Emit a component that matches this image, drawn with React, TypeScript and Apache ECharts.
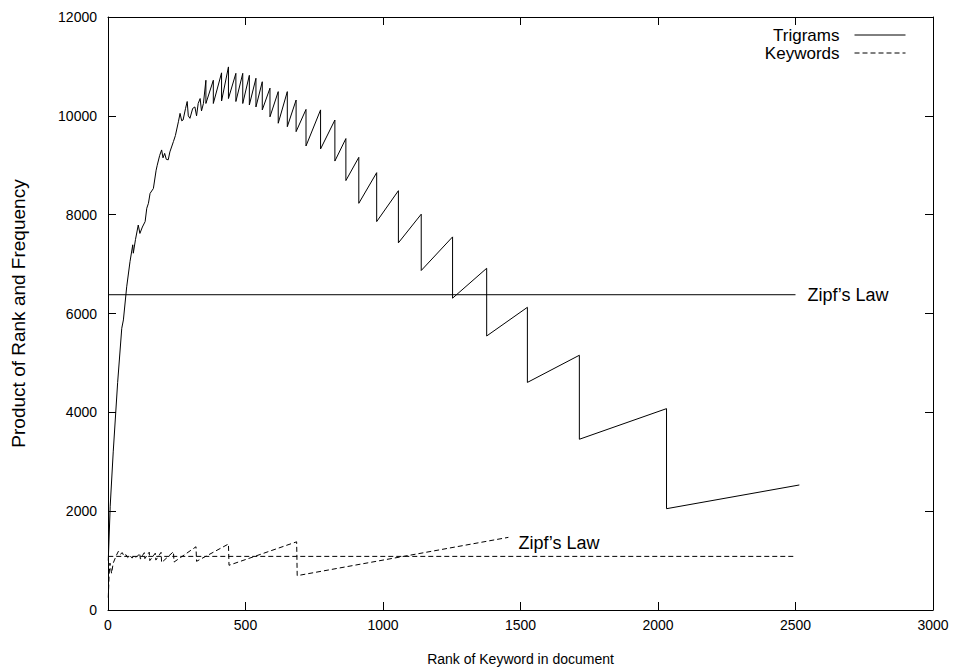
import React, { useEffect, useRef } from "react";
import * as echarts from "echarts";

// Trigram curve: rank vs product of rank and frequency
const trigramRank = [
  1, 8, 19, 35, 50, 56, 68, 80, 90, 92, 100, 110, 116, 125, 135, 141, 147, 153, 165, 175, 179, 188, 195,
  200, 206, 212, 219, 225, 238, 245, 256, 262, 268, 273, 282, 288, 292, 298, 308, 316, 322, 328, 335, 340,
  347, 356, 356, 383, 383, 413, 413, 438, 438, 465, 465, 490, 490, 514, 514, 538, 538, 561, 561, 589, 589,
  619, 619, 652, 652, 684, 684, 720, 720, 773, 773, 825, 825, 865, 865, 912, 912, 977, 977, 1056, 1056,
  1139, 1139, 1253, 1253, 1377, 1377, 1525, 1525, 1714, 1714, 2031, 2031, 2514,
];
const trigramValue = [
  1000, 2100, 3200, 4600, 5700, 5870, 6540, 7050, 7390, 7220, 7500, 7790, 7620, 7750, 7860, 8130, 8230,
  8430, 8530, 8900, 9000, 9200, 9310, 9150, 9240, 9120, 9110, 9270, 9480, 9600, 9880, 10050, 9900, 9915,
  10150, 10290, 10000, 9950, 10150, 10180, 10000, 10250, 10350, 10100, 10250, 10720, 10250, 10720, 10250,
  10870, 10300, 10990, 10350, 10860, 10290, 10860, 10250, 10820, 10220, 10760, 10180, 10690, 10120, 10560,
  9980, 10490, 9850, 10490, 9780, 10320, 9680, 10130, 9390, 10120, 9330, 9915, 9085, 9540, 8690, 9160,
  8230, 8850, 7860, 8485, 7430, 8010, 6870, 7550, 6310, 6915, 5545, 6125, 4605, 5155, 3455, 4075, 2050, 2530,
];

// Keyword curve
const keywordRank = [
  1, 4, 7, 13, 19, 30, 38, 45, 52, 58, 65, 72, 80, 88, 95, 100, 108, 115, 118, 125, 132, 134, 145, 150,
  152, 172, 174, 193, 195, 238, 240, 320, 322, 438, 440, 686, 688, 1456,
];
const keywordValue = [
  250, 700, 950, 740, 950, 1100, 1190, 1130, 1160, 1090, 1120, 1060, 1100, 1050, 1110, 1070, 1090, 1150,
  1030, 1100, 1160, 1040, 1130, 1170, 1000, 1150, 1010, 1167, 960, 1180, 970, 1280, 985, 1335, 905, 1380,
  695, 1470,
];

// Zipf's law reference levels
const zipfRange = [1, 2500];
const trigramZipf = 6380;
const keywordZipf = 1085;

const xTicks = { min: 0, max: 3000, interval: 500 };
const yTicks = { min: 0, max: 12000, interval: 2000 };

const FONT = "'Liberation Sans', Arial, Helvetica, sans-serif";

export default function App() {
  const ref = useRef<HTMLDivElement>(null);
  useEffect(() => {
    if (!ref.current) return;
    const chart = echarts.init(ref.current, null, { renderer: "svg" });
    const pairs = (xs: number[], ys: number[]) => xs.map((x, i) => [x, ys[i]]);
    const axisCommon = {
      type: "value" as const,
      splitLine: { show: false },
      axisLine: { show: true, onZero: false, lineStyle: { color: "#000", width: 1 } },
      axisTick: { show: true, inside: true, length: 8, lineStyle: { color: "#000" } },
    };
    chart.setOption({
      animation: false,
      backgroundColor: "#fff",
      textStyle: { fontFamily: FONT },
      grid: { left: 108, right: 23, top: 17, bottom: 61, containLabel: false },
      legend: {
        data: ["Trigrams", "Keywords"],
        orient: "vertical",
        align: "right",
        right: 45,
        top: 21,
        itemWidth: 51,
        itemHeight: 14,
        itemGap: 0,
        itemStyle: { opacity: 0, borderWidth: 0 },
        lineStyle: { width: 1 },
        textStyle: { fontSize: 17, lineHeight: 18, color: "#000", fontFamily: FONT, padding: [0, 10, 0, 0] },
      },
      xAxis: [
        {
          ...axisCommon,
          ...xTicks,
          position: "bottom",
          name: "Rank of Keyword in document",
          nameLocation: "middle",
          nameGap: 42,
          nameTextStyle: { fontSize: 14, color: "#000", fontFamily: FONT },
          axisLabel: { fontSize: 14, color: "#000", margin: 8, fontFamily: FONT, formatter: (v: number) => String(v) },
        },
        { ...axisCommon, ...xTicks, position: "top", axisLabel: { show: false } },
      ],
      yAxis: [
        {
          ...axisCommon,
          ...yTicks,
          position: "left",
          name: "Product of Rank and Frequency",
          nameLocation: "middle",
          nameGap: 80,
          nameTextStyle: { fontSize: 19, color: "#000", fontFamily: FONT },
          axisLabel: { fontSize: 14, color: "#000", margin: 11, fontFamily: FONT, formatter: (v: number) => String(v) },
        },
        { ...axisCommon, ...yTicks, position: "right", axisLabel: { show: false } },
      ],
      series: [
        {
          name: "Trigrams",
          type: "line",
          data: pairs(trigramRank, trigramValue),
          symbol: "none",
          lineStyle: { color: "#000", width: 1, type: "solid" },
          itemStyle: { color: "#000" },
        },
        {
          name: "Keywords",
          type: "line",
          data: pairs(keywordRank, keywordValue),
          symbol: "none",
          lineStyle: { color: "#000", width: 1, type: [5, 3] },
          itemStyle: { color: "#000" },
          endLabel: {
            show: true,
            formatter: "Zipf\u2019s Law",
            fontSize: 18,
            color: "#000",
            fontFamily: FONT,
            distance: 10,
            offset: [0, 6],
          },
        },
        {
          name: "Trigram Zipf",
          type: "line",
          data: zipfRange.map((x) => [x, trigramZipf]),
          symbol: "none",
          lineStyle: { color: "#000", width: 1, type: "solid" },
          endLabel: {
            show: true,
            formatter: "Zipf\u2019s Law",
            fontSize: 18,
            color: "#000",
            fontFamily: FONT,
            distance: 12,
          },
        },
        {
          name: "Keyword Zipf",
          type: "line",
          data: zipfRange.map((x) => [x, keywordZipf]),
          symbol: "none",
          lineStyle: { color: "#000", width: 1, type: [5, 3] },
        },
      ],
    });
    return () => chart.dispose();
  }, []);
  return (
    <div
      ref={ref}
      style={{ position: "fixed", left: 0, top: 0, width: 956, height: 671, background: "#fff" }}
    />
  );
}
